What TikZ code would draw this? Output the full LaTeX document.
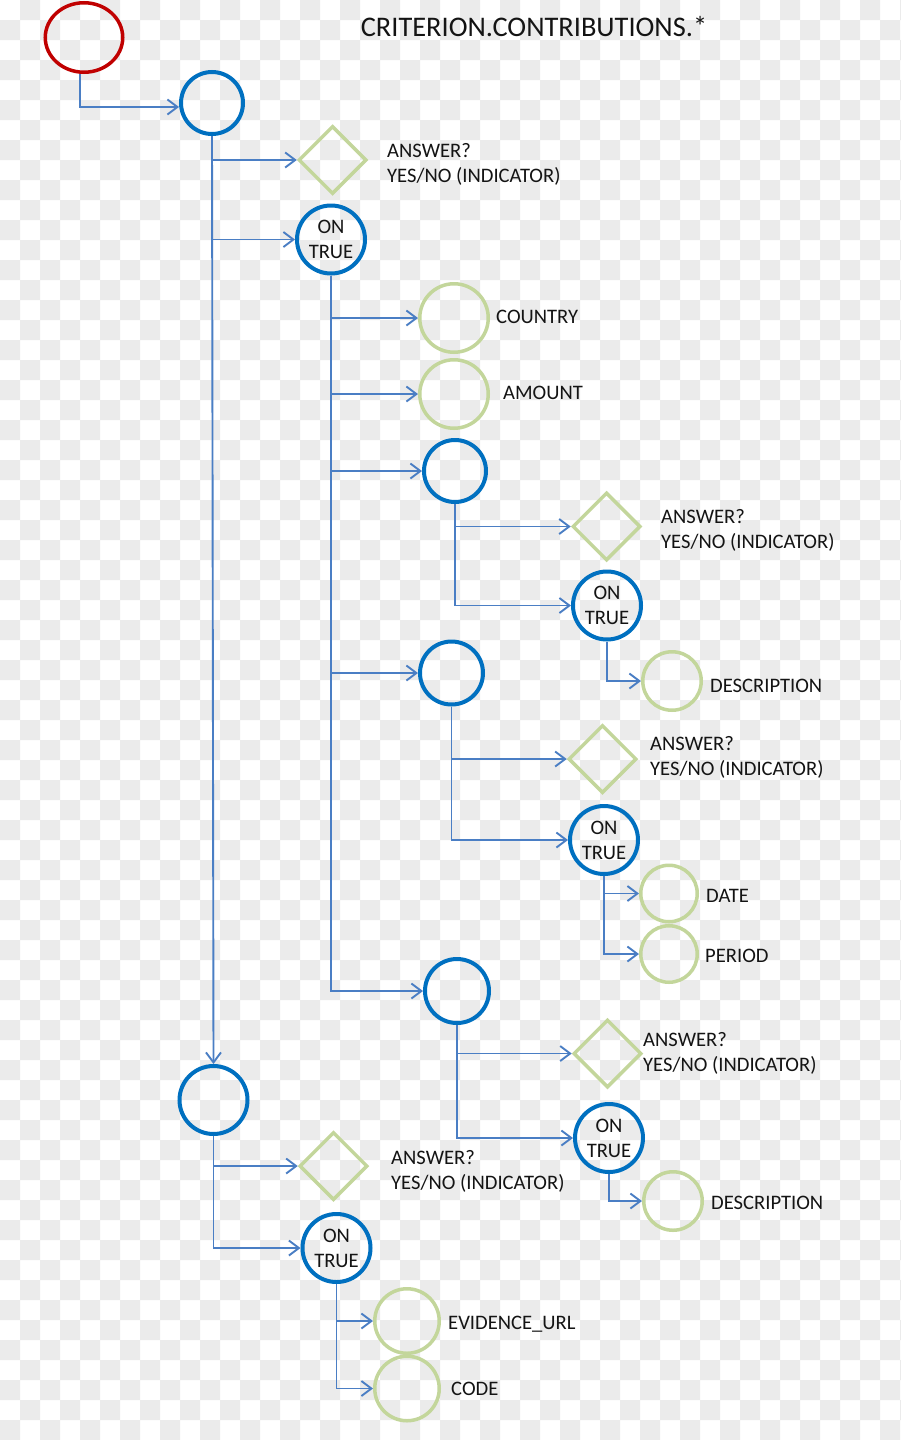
\documentclass[tikz,border=0pt]{standalone}
\usepackage{fontspec}
\setmainfont{Carlito}
\usetikzlibrary{shapes.geometric,arrows.meta}
\definecolor{bgc}{HTML}{EBEBEB}
\definecolor{nodeblue}{HTML}{0070C0}
\definecolor{lineblue}{HTML}{4A7EC4}
\definecolor{nodegreen}{HTML}{C3D69B}
\definecolor{nodered}{HTML}{C00000}
\definecolor{txt}{HTML}{141414}
\begin{document}
\begin{tikzpicture}[x=1pt,y=-1pt,
  conn/.style={draw=lineblue,line width=1.9pt,-{Straight Barb[length=10pt,width=15pt]}},
  bluec/.style={circle,draw=nodeblue,line width=4pt,inner sep=0pt,minimum size=#1},
  ontrue/.style={circle,draw=nodeblue,line width=4pt,inner sep=0pt,minimum size=68pt,align=center,text=txt,
     font=\fontsize{20.6}{25}\selectfont},
  greenc/.style={circle,draw=nodegreen,line width=3.5pt,inner sep=0pt,minimum size=#1},
  dia/.style={diamond,draw=nodegreen,line width=3.5pt,inner sep=0pt,minimum width=68pt,minimum height=68pt},
  lbl/.style={anchor=west,inner sep=0pt,align=left,text=txt,yshift=-2pt,font=\fontsize{20.6}{25}\selectfont}]
\useasboundingbox (0,0) rectangle (900,1440);
% checkerboard background
\fill[white] (0,0) rectangle (900,1440);
\fill[bgc] \foreach \j in {0,...,71} { \foreach \k in {0,...,22} {
  ({40*\k+20*(1-mod(\j,2))},{20*\j}) rectangle ++(20,20) } };
% title
\node[inner sep=0pt,text=txt,font=\fontsize{28.4}{34}\selectfont] (title) at (534,27) {CRITERION.CONTRIBUTIONS.*};
% nodes
\node[ellipse,draw=nodered,line width=3.5pt,inner sep=0pt,minimum width=77.5pt,minimum height=69.5pt] (R) at (84,37.5) {};
\node[bluec=62pt] (A1) at (212,103) {};
\node[dia] (D1) at (332.5,160) {};
\node[ontrue] (C1) at (331,239.5) {ON\\TRUE};
\node[greenc=68.5pt] (G1) at (454,318) {};
\node[greenc=68.5pt] (G2) at (454,394) {};
\node[bluec=62pt] (B2) at (455,471) {};
\node[dia] (D2) at (606.5,526.5) {};
\node[ontrue] (C2) at (607,605.5) {ON\\TRUE};
\node[greenc=58.5pt] (G3) at (672,681) {};
\node[bluec=63pt] (B3) at (451.5,673) {};
\node[dia] (D3) at (602.5,759) {};
\node[ontrue] (C3) at (604,840) {ON\\TRUE};
\node[greenc=56.5pt] (G4) at (669,893.5) {};
\node[greenc=56.5pt] (G5) at (669,954) {};
\node[bluec=64pt] (B4) at (457,991) {};
\node[dia] (D4) at (607.5,1053.5) {};
\node[ontrue] (C4) at (609,1138) {ON\\TRUE};
\node[greenc=58.5pt] (G6) at (673,1201) {};
\node[bluec=68pt] (B5) at (213.5,1100) {};
\node[dia] (D5) at (333.5,1166) {};
\node[ontrue] (C5) at (336.5,1248) {ON\\TRUE};
\node[greenc=64.5pt] (G7) at (407,1321) {};
\node[greenc=64.5pt] (G8) at (407,1388.5) {};
% labels
\node[lbl] (L1) at (387,162.5) {ANSWER?\\YES/NO (INDICATOR)};
\node[lbl] (LG1) at (496,315) {COUNTRY};
\node[lbl] (LG2) at (503,391) {AMOUNT};
\node[lbl] (L2) at (661,528.5) {ANSWER?\\YES/NO (INDICATOR)};
\node[lbl] (LG3) at (710,684) {DESCRIPTION};
\node[lbl] (L3) at (650,755.5) {ANSWER?\\YES/NO (INDICATOR)};
\node[lbl] (LG4) at (706,894) {DATE};
\node[lbl] (LG5) at (705,954) {PERIOD};
\node[lbl] (L4) at (643,1051.5) {ANSWER?\\YES/NO (INDICATOR)};
\node[lbl] (LG6) at (711,1201) {DESCRIPTION};
\node[lbl] (L5) at (391,1169.5) {ANSWER?\\YES/NO (INDICATOR)};
\node[lbl] (LG7) at (448,1322) {EVIDENCE\_URL};
\node[lbl] (LG8) at (451,1387) {CODE};
% connectors
\draw[conn] ([xshift=-4pt]R.south) |- ([yshift=-4pt]A1.west);
\draw[conn] (A1.south) -- (B5.north);
\draw[conn] (A1.south) |- (D1.west);
\draw[conn] (A1.south) |- (C1.west);
\draw[conn] (C1.south) |- (G1.west);
\draw[conn] (C1.south) |- (G2.west);
\draw[conn] (C1.south) |- (B2.west);
\draw[conn] (C1.south) |- (B3.west);
\draw[conn] (C1.south) |- (B4.west);
\draw[conn] (B2.south) |- (D2.west);
\draw[conn] (B2.south) |- (C2.west);
\draw[conn] (C2.south) |- (G3.west);
\draw[conn] (B3.south) |- (D3.west);
\draw[conn] (B3.south) |- (C3.west);
\draw[conn] (C3.south) |- (G4.west);
\draw[conn] (C3.south) |- (G5.west);
\draw[conn] (B4.south) |- (D4.west);
\draw[conn] (B4.south) |- (C4.west);
\draw[conn] (C4.south) |- (G6.west);
\draw[conn] (B5.south) |- (D5.west);
\draw[conn] (B5.south) |- (C5.west);
\draw[conn] (C5.south) |- (G7.west);
\draw[conn] (C5.south) |- (G8.west);
\end{tikzpicture}
\end{document}
